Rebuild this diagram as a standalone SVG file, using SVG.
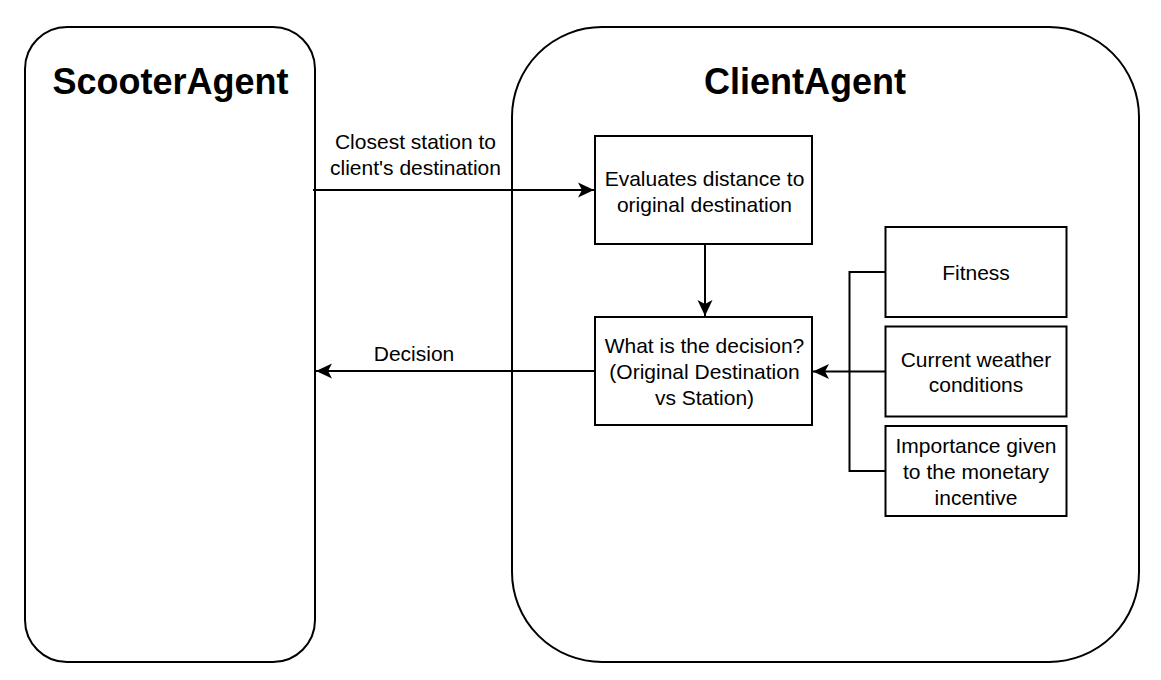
<svg xmlns="http://www.w3.org/2000/svg" width="1161" height="680" viewBox="0 0 1161 680">
<style>
.agent{fill:#fff;stroke:#000;stroke-width:2}
.box{fill:#fff;stroke:#000;stroke-width:2}
.title{font-family:"Liberation Sans",Arial,sans-serif;font-size:36px;font-weight:bold;text-anchor:middle;fill:#000}
.lbl{font-family:"Liberation Sans",Arial,sans-serif;font-size:21px;text-anchor:middle;fill:#000}
.edge{fill:none;stroke:#000;stroke-width:2}
</style>
<defs>
<marker id="arr" markerUnits="userSpaceOnUse" markerWidth="20" markerHeight="20" viewBox="-18 -9 20 18" refX="0" refY="0" orient="auto">
<path d="M0,0 L-16,-7.5 L-12,0 L-16,7.5 Z" fill="#000"/>
</marker>
</defs>
<rect width="1161" height="680" fill="#fff"/>
<g id="scooter-agent">
<rect class="agent" x="25" y="27" width="290" height="635" rx="42" ry="42"/>
<text class="title" x="170.5" y="94">ScooterAgent</text>
</g>
<g id="client-agent">
<rect class="agent" x="512" y="27" width="627" height="635" rx="90" ry="90"/>
<text class="title" x="805" y="94">ClientAgent</text>
</g>
<g id="evaluate">
<rect class="box" x="595" y="136" width="217" height="108"/>
<text class="lbl" x="704.5" y="186">Evaluates distance to</text>
<text class="lbl" x="704.5" y="212">original destination</text>
</g>
<g id="decision">
<rect class="box" x="595" y="317" width="217" height="108"/>
<text class="lbl" x="704.5" y="353">What is the decision?</text>
<text class="lbl" x="704.5" y="379">(Original Destination</text>
<text class="lbl" x="704.5" y="405">vs Station)</text>
</g>
<g id="fitness">
<rect class="box" x="885.5" y="227" width="181" height="90"/>
<text class="lbl" x="976" y="280">Fitness</text>
</g>
<g id="weather">
<rect class="box" x="885.5" y="326.5" width="181" height="90"/>
<text class="lbl" x="976" y="366.5">Current weather</text>
<text class="lbl" x="976" y="392">conditions</text>
</g>
<g id="importance">
<rect class="box" x="885.5" y="426" width="181" height="90"/>
<text class="lbl" x="976" y="453">Importance given</text>
<text class="lbl" x="976" y="479">to the monetary</text>
<text class="lbl" x="976" y="505">incentive</text>
</g>
<g id="connectors">
<line class="edge" x1="313" y1="190" x2="594" y2="190" marker-end="url(#arr)"/>
<text class="lbl" x="415.5" y="149">Closest station to</text>
<text class="lbl" x="415.5" y="175">client's destination</text>
<line class="edge" x1="595" y1="371" x2="316" y2="371" marker-end="url(#arr)"/>
<text class="lbl" x="414" y="361">Decision</text>
<line class="edge" x1="705" y1="244" x2="705" y2="316" marker-end="url(#arr)"/>
<line class="edge" x1="885.5" y1="371.5" x2="813" y2="371.5" marker-end="url(#arr)"/>
<polyline class="edge" points="885.5,272 849.5,272 849.5,471 885.5,471"/>
</g>
</svg>
